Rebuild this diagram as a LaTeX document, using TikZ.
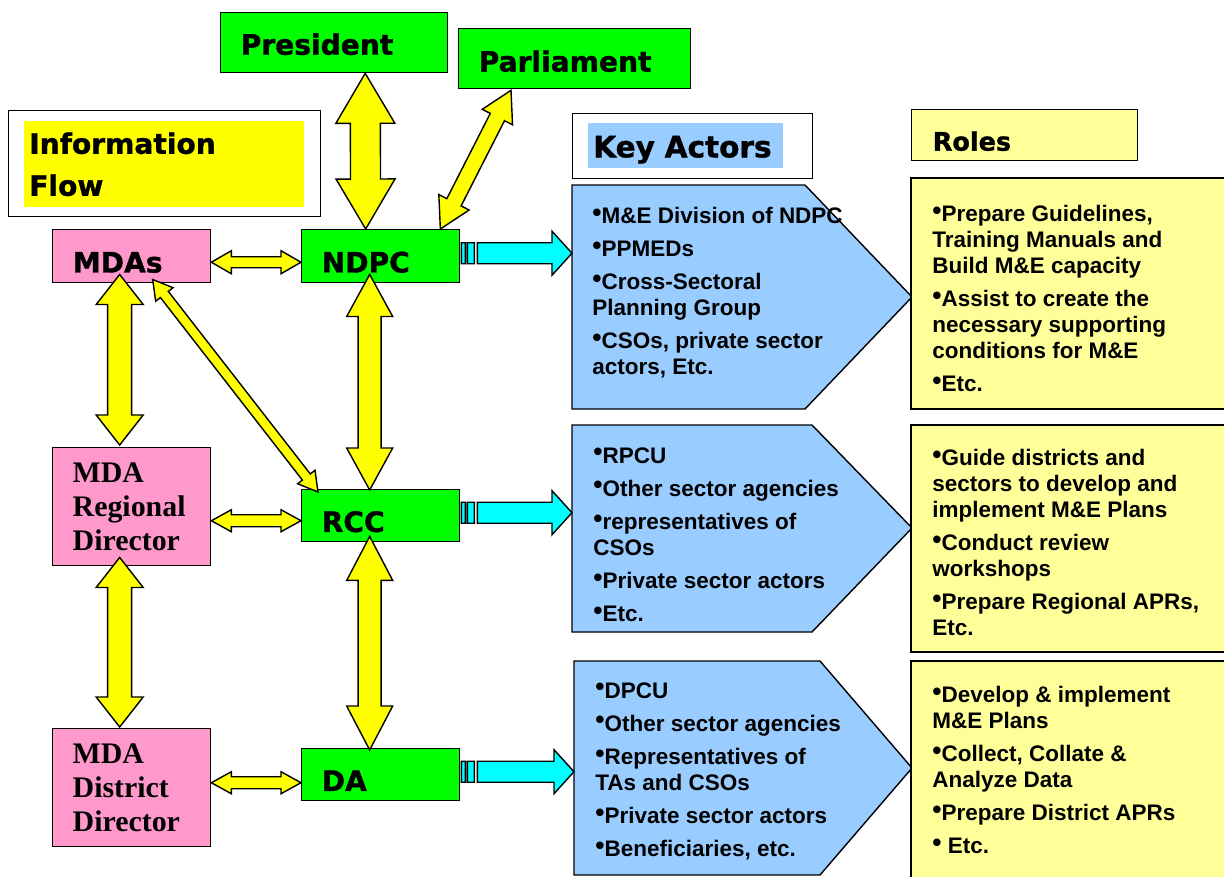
\documentclass[tikz,border=0pt]{standalone}
\usepackage{fontspec}
\setmainfont{Liberation Sans}
\newfontfamily\headfont[BoldFeatures={FakeBold=1.2}]{DejaVu Sans}
\newfontfamily\serifbold{Liberation Serif}
\usetikzlibrary{calc}
\definecolor{boxgreen}{HTML}{00FF00}
\definecolor{boxpink}{HTML}{FF99CC}
\definecolor{arrowyellow}{HTML}{FFFF00}
\definecolor{roleyellow}{HTML}{FFFF99}
\definecolor{actorblue}{HTML}{99CCFF}
\definecolor{feedcyan}{HTML}{00FFFF}
\def\pxl{0.569pt}
\newcommand\bul{\raisebox{1.2pt}{\fontsize{15}{15}\selectfont\textbullet}}
\tikzset{
  box/.style={draw=black, line width=0.8pt, inner ysep=0pt, align=left, anchor=north west},
  hfont/.style={font=\headfont\bfseries\fontsize{16}{18}\selectfont},
  gbox/.style={box, fill=boxgreen, hfont, inner xsep=11.4pt, text depth=0pt},
  pbox/.style={box, fill=boxpink, inner xsep=11.4pt},
  actor/.style={draw=black, line width=0.8pt, fill=actorblue, line join=miter},
  role/.style={draw=black, line width=0.8pt, fill=roleyellow},
  list/.style={anchor=north west, inner sep=0pt, align=left, font=\bfseries\fontsize{12.8}{14.8}\selectfont},
  yarrow/.style={draw=black, line width=0.8pt, fill=arrowyellow, line join=miter},
  feed/.style={draw=black, line width=0.8pt, fill=feedcyan},
}
% block arrow with two heads: from, to, shaft half width, head half width, head length (px)
\newcommand\dblarrow[5]{%
  \draw[yarrow] let \p1=(#1), \p2=(#2), \n1={atan2(\y2-\y1,\x2-\x1)},
    \n2={\n1+90}, \n3={\n1-90}, \n4={\n1+180} in
    (\p1) -- ($(\p1)+(\n1:#5*\pxl)+(\n2:#4*\pxl)$)
    -- ($(\p1)+(\n1:#5*\pxl)+(\n2:#3*\pxl)$)
    -- ($(\p2)+(\n4:#5*\pxl)+(\n2:#3*\pxl)$)
    -- ($(\p2)+(\n4:#5*\pxl)+(\n2:#4*\pxl)$)
    -- (\p2)
    -- ($(\p2)+(\n4:#5*\pxl)+(\n3:#4*\pxl)$)
    -- ($(\p2)+(\n4:#5*\pxl)+(\n3:#3*\pxl)$)
    -- ($(\p1)+(\n1:#5*\pxl)+(\n3:#3*\pxl)$)
    -- ($(\p1)+(\n1:#5*\pxl)+(\n3:#4*\pxl)$) -- cycle;}
% striped arrow to the actors: from node, to coordinate, y offset
\newcommand\feedarrow[3]{%
  \draw[feed] let \p1=($(#1)+(0,#3)$), \p2=(#2) in
    (\x1+1*\pxl,\y1-10.5*\pxl) rectangle (\x1+5*\pxl,\y1+10.5*\pxl)
    (\x1+7*\pxl,\y1-10.5*\pxl) rectangle (\x1+14*\pxl,\y1+10.5*\pxl)
    (\x1+17*\pxl,\y1-10.5*\pxl) -- (\x2-20*\pxl,\y1-10.5*\pxl)
    -- (\x2-20*\pxl,\y1-22*\pxl) -- (\x2,\y1) -- (\x2-20*\pxl,\y1+22*\pxl)
    -- (\x2-20*\pxl,\y1+10.5*\pxl) -- (\x1+17*\pxl,\y1+10.5*\pxl) -- cycle;}

\begin{document}
\begin{tikzpicture}[x=0.02cm, y=-0.02cm]
  \path[use as bounding box, fill=white] (0,0) rectangle (1224,876);

  % headings
  \node[box, fill=white, minimum width=177.5pt, minimum height=60.3pt, inner sep=0pt] (infoframe) at (8,110) {};
  \node[anchor=north west, fill=arrowyellow, text width=153.7pt, inner xsep=2.8pt, inner ysep=0pt,
    minimum height=48.9pt, align=left, font=\headfont\bfseries\fontsize{16}{23.9}\selectfont] (info) at (24,121) {Information\\Flow};
  \node[box, fill=white, minimum width=136.6pt, minimum height=37pt, inner sep=0pt] (kaframe) at (572,113) {};
  \node[anchor=north west, fill=actorblue, text width=105.4pt, inner xsep=2.8pt, inner ysep=0pt,
    minimum height=25.6pt, text height=13.1pt, text depth=0pt,
    font=\headfont\bfseries\fontsize{16.8}{18}\selectfont] (keyactors) at (588,123) {Key Actors};
  \node[box, fill=roleyellow, text width=104.6pt, inner xsep=12pt, minimum height=29pt,
    text height=17.6pt, text depth=0pt, font=\headfont\bfseries\fontsize{14.5}{16}\selectfont] (roles) at (911,109) {Roles};

  % key actors
  \draw[actor] (572,185) -- (805,185) -- (912,297) -- (805,409) -- (572,409) -- cycle;
  \coordinate (ka1) at (572,297);
  \draw[actor] (572,425) -- (812,425) -- (912,528) -- (812,632) -- (572,632) -- cycle;
  \coordinate (ka2) at (572,528);
  \draw[actor] (574,661) -- (820,661) -- (912,768) -- (820,875) -- (574,875) -- cycle;
  \coordinate (ka3) at (574,768);
  \node[list] (actors1) at (592,207) {\bul M\&E Division of NDPC\\[4pt]\bul PPMEDs\\[4pt]\bul Cross-Sectoral\\Planning Group\\[4pt]\bul CSOs, private sector\\actors, Etc.};
  \node[list] (actors2) at (593,447) {\bul RPCU\\[4pt]\bul Other sector agencies\\[4pt]\bul representatives of\\CSOs\\[4pt]\bul Private sector actors\\[4pt]\bul Etc.};
  \node[list] (actors3) at (595,682) {\bul DPCU\\[4pt]\bul Other sector agencies\\[4pt]\bul Representatives of\\TAs and CSOs\\[4pt]\bul Private sector actors\\[4pt]\bul Beneficiaries, etc.};

  % roles
  \draw[role] (911,178) rectangle (1230,409);
  \draw[role] (911,425) rectangle (1230,652);
  \draw[role] (911,661) rectangle (1230,880);
  \node[list] (roles1) at (932,205) {\bul Prepare Guidelines,\\Training Manuals and\\Build M\&E capacity\\[4pt]\bul Assist to create the\\necessary supporting\\conditions for M\&E\\[4pt]\bul Etc.};
  \node[list] (roles2) at (932,449) {\bul Guide districts and\\sectors to develop and\\implement M\&E Plans\\[4pt]\bul Conduct review\\workshops\\[4pt]\bul Prepare Regional APRs,\\Etc.};
  \node[list] (roles3) at (932,686) {\bul Develop \& implement\\M\&E Plans\\[4pt]\bul Collect, Collate \&\\Analyze Data\\[4pt]\bul Prepare District APRs\\[4pt]\bul\ Etc.};

  % bodies
  \node[gbox, text width=106.4pt, minimum height=34.1pt, text height=13.7pt] (president) at (220,12) {President};
  \node[gbox, text width=109.2pt, minimum height=34.1pt, text height=14.8pt] (parliament) at (458,28) {Parliament};
  \node[gbox, text width=67.1pt, minimum height=30.2pt, text height=18.5pt] (ndpc) at (301,229) {NDPC};
  \node[gbox, text width=67.1pt, minimum height=29.6pt, text height=18.5pt] (rcc) at (301,489) {RCC};
  \node[gbox, text width=67.1pt, minimum height=29.6pt, text height=18.5pt] (da) at (301,748) {DA};
  \node[pbox, hfont, text width=67.1pt, minimum height=30.2pt, text height=18.5pt, text depth=0pt] (mdas) at (52,229) {MDAs};
  \node[pbox, font=\serifbold\bfseries\fontsize{17}{19.3}\selectfont, text width=67.1pt, minimum height=67.2pt] (mdard) at (52,447) {MDA\\Regional\\Director};
  \node[pbox, font=\serifbold\bfseries\fontsize{17}{19.3}\selectfont, text width=67.1pt, minimum height=67.2pt] (mdadd) at (52,728) {MDA\\District\\Director};

  % flows to the actors
  \feedarrow{ndpc.east}{ka1}{-3}
  \feedarrow{rcc.east}{ka2}{-3}
  \feedarrow{da.east}{ka3}{-3}

  % information flow
  \dblarrow{$(president.south)+(31,0)$}{$(ndpc.north)+(-15,0)$}{15}{29.5}{50}
  \dblarrow{$(parliament.south west)+(53,1)$}{$(ndpc.north east)+(-20,0)$}{8}{17}{30}
  \dblarrow{$(mdas.east)+(0,6)$}{$(ndpc.west)+(0,6)$}{5.5}{11.5}{20}
  \dblarrow{$(mdas.south)+(-12,-9)$}{$(mdard.north)+(-12,-2)$}{12}{23.5}{30}
  \dblarrow{$(mdas.south)+(21,-4)$}{$(rcc.north west)+(17,3)$}{5}{11}{19}
  \dblarrow{$(ndpc.south)+(-11,-9)$}{$(rcc.north)+(-11,1)$}{11.5}{23}{42}
  \dblarrow{$(rcc.south)+(-11,-6)$}{$(da.north)+(-11,2)$}{11.5}{23}{44}
  \dblarrow{$(mdard.east)+(0,14)$}{$(rcc.west)+(0,5)$}{6}{11}{20}
  \dblarrow{$(mdard.south)+(-12,-9)$}{$(mdadd.north)+(-12,-1)$}{12}{23.5}{30}
  \dblarrow{$(mdadd.east)+(0,-5)$}{$(da.west)+(0,8)$}{6}{11}{20}
\end{tikzpicture}
\end{document}
